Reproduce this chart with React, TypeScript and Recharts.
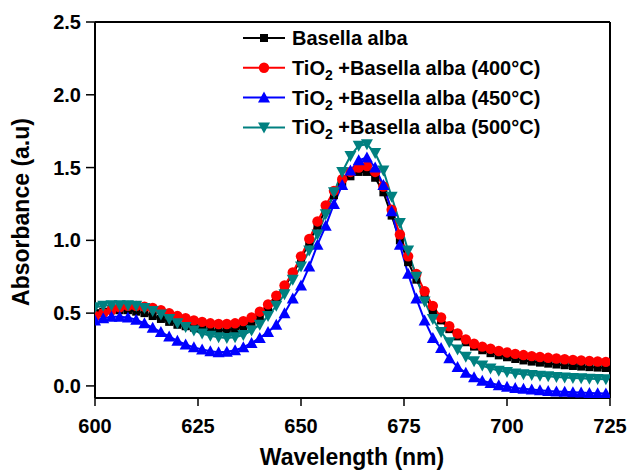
import React from "react";
import {
  LineChart,
  Line,
  XAxis,
  YAxis,
  ReferenceLine,
  Legend,
} from "recharts";

// wavelength (nm), one reading every 2 nm
const wavelengths = [
  600, 602, 604, 606, 608, 610, 612, 614, 616, 618, 620, 622, 624, 626, 628, 630,
  632, 634, 636, 638, 640, 642, 644, 646, 648, 650, 652, 654, 656, 658, 660, 662,
  664, 666, 668, 670, 672, 674, 676, 678, 680, 682, 684, 686, 688, 690, 692, 694,
  696, 698, 700, 702, 704, 706, 708, 710, 712, 714, 716, 718, 720, 722, 724,
];

const basella = [
  0.5, 0.51, 0.52, 0.52, 0.52, 0.51, 0.5, 0.48, 0.46, 0.44, 0.42, 0.41, 0.4, 0.39, 0.385, 0.38,
  0.385, 0.39, 0.41, 0.44, 0.48, 0.53, 0.6, 0.68, 0.77, 0.87, 0.99, 1.1, 1.21, 1.31, 1.39, 1.44,
  1.47, 1.47, 1.43, 1.33, 1.17, 1.0, 0.85, 0.73, 0.62, 0.52, 0.45, 0.39, 0.34, 0.3, 0.27, 0.245,
  0.225, 0.21, 0.197, 0.185, 0.175, 0.167, 0.16, 0.153, 0.147, 0.142, 0.137, 0.133, 0.129, 0.126, 0.123,
];

const tio400 = [
  0.48, 0.5, 0.52, 0.54, 0.55, 0.55, 0.545, 0.535, 0.52, 0.5, 0.48, 0.465, 0.45, 0.44, 0.43, 0.425,
  0.425, 0.43, 0.445, 0.47, 0.51, 0.56, 0.62, 0.69, 0.78, 0.89, 1.01, 1.13, 1.24, 1.34, 1.42, 1.47,
  1.5, 1.51, 1.47, 1.37, 1.21, 1.04, 0.89, 0.77, 0.65, 0.55, 0.47, 0.41, 0.36, 0.32, 0.29, 0.27,
  0.255, 0.24, 0.23, 0.22, 0.212, 0.205, 0.199, 0.193, 0.188, 0.183, 0.179, 0.175, 0.171, 0.168, 0.165,
];

const tio450 = [
  0.45, 0.465, 0.475, 0.475, 0.47, 0.455, 0.43, 0.4, 0.37, 0.34, 0.31, 0.285, 0.265, 0.25, 0.238, 0.232,
  0.235, 0.245, 0.265, 0.295, 0.33, 0.37, 0.42, 0.5, 0.6, 0.69, 0.82, 0.97, 1.1, 1.25, 1.38, 1.48,
  1.55, 1.57, 1.5, 1.38, 1.2, 0.97, 0.77, 0.6, 0.45, 0.33, 0.26, 0.19, 0.13, 0.09, 0.06, 0.035,
  0.02, 0.005, -0.005, -0.015, -0.02, -0.025, -0.03, -0.035, -0.038, -0.04, -0.043, -0.046, -0.048, -0.05, -0.052,
];

const tio500 = [
  0.54, 0.55, 0.555, 0.555, 0.555, 0.55, 0.535, 0.515, 0.49, 0.46, 0.43, 0.405, 0.38, 0.36, 0.345, 0.335,
  0.33, 0.335, 0.35, 0.38, 0.42, 0.48, 0.55, 0.63, 0.73, 0.82, 0.93, 1.04, 1.18, 1.33, 1.47, 1.58,
  1.65, 1.66, 1.6, 1.48, 1.3, 1.12, 0.93, 0.75, 0.58, 0.46, 0.37, 0.3, 0.25, 0.2, 0.17, 0.14,
  0.12, 0.105, 0.095, 0.085, 0.08, 0.075, 0.07, 0.066, 0.062, 0.058, 0.055, 0.052, 0.05, 0.048, 0.046,
];

const xTicks = [600, 625, 650, 675, 700, 725];
const yTicks = [0, 0.5, 1, 1.5, 2, 2.5];

const data = wavelengths.map((w, i) => ({
  w,
  basella: basella[i],
  tio400: tio400[i],
  tio450: tio450[i],
  tio500: tio500[i],
}));

type Shape = "square" | "circle" | "up" | "down";

const series: { key: string; temp: string | null; color: string; shape: Shape }[] = [
  { key: "basella", temp: null, color: "#000000", shape: "square" },
  { key: "tio400", temp: "400", color: "#ff0000", shape: "circle" },
  { key: "tio450", temp: "450", color: "#0000ff", shape: "up" },
  { key: "tio500", temp: "500", color: "#008080", shape: "down" },
];

const FONT = "'Liberation Sans', Arial, Helvetica, sans-serif";

function Marker({ cx, cy, shape, color }: { cx: number; cy: number; shape: Shape; color: string }) {
  if (shape === "square") return <rect x={cx - 4} y={cy - 4} width={8} height={8} fill={color} />;
  if (shape === "circle") return <circle cx={cx} cy={cy} r={5.2} fill={color} />;
  if (shape === "up")
    return <polygon points={`${cx},${cy - 6} ${cx + 6},${cy + 5} ${cx - 6},${cy + 5}`} fill={color} />;
  return <polygon points={`${cx - 6},${cy - 5} ${cx + 6},${cy - 5} ${cx},${cy + 6}`} fill={color} />;
}

function makeDot(shape: Shape, color: string) {
  return (props: any) => {
    const { cx, cy, index } = props;
    if (cx == null || cy == null) return <g key={index} />;
    return <Marker key={index} cx={cx} cy={cy} shape={shape} color={color} />;
  };
}

function LegendBox() {
  return (
    <svg width={380} height={120} style={{ overflow: "visible" }}>
      {series.map((s, i) => {
        const y = 16 + i * 29.8;
        return (
          <g key={s.key}>
            <line x1={13} x2={55} y1={y} y2={y} stroke={s.color} strokeWidth={2} />
            <Marker cx={34} cy={y} shape={s.shape} color={s.color} />
            <text x={62} y={y + 7} fontFamily={FONT} fontWeight="bold" fontSize={20} fill="#000">
              {s.temp === null ? (
                "Basella alba"
              ) : (
                <>
                  TiO
                  <tspan fontSize={14} dy={5}>2</tspan>
                  <tspan dy={-5}>{` +Basella alba (${s.temp}°C)`}</tspan>
                </>
              )}
            </text>
          </g>
        );
      })}
    </svg>
  );
}

const tickStyle = { fontFamily: FONT, fontWeight: "bold" as const, fontSize: 20, fill: "#000" };

export default function App() {
  return (
    <div style={{ position: "absolute", left: 0, top: 0, width: 628, height: 471, background: "#fff" }}>
      <LineChart width={628} height={471} data={data} margin={{ top: 22, right: 18, bottom: 0, left: 0 }}>
        <XAxis
          dataKey="w"
          type="number"
          domain={[600, 725]}
          ticks={xTicks}
          allowDataOverflow
          height={73}
          tickSize={8}
          tickMargin={13}
          tick={tickStyle}
          axisLine={{ stroke: "#000", strokeWidth: 2 }}
          tickLine={{ stroke: "#000", strokeWidth: 1.5 }}
          label={{
            content: () => (
              <text x={352} y={465} textAnchor="middle" fontFamily={FONT} fontWeight="bold" fontSize={23} fill="#000">
                Wavelength (nm)
              </text>
            ),
          }}
        />
        <YAxis
          type="number"
          domain={[-0.083, 2.5]}
          ticks={yTicks}
          allowDataOverflow
          width={95}
          tickSize={9}
          tickMargin={5}
          tick={tickStyle}
          tickFormatter={(v: number) => v.toFixed(1)}
          axisLine={{ stroke: "#000", strokeWidth: 2 }}
          tickLine={{ stroke: "#000", strokeWidth: 1.5 }}
          label={{
            content: () => (
              <text
                x={29}
                y={212}
                transform="rotate(-90, 29, 212)"
                textAnchor="middle"
                fontFamily={FONT}
                fontWeight="bold"
                fontSize={23}
                fill="#000"
              >
                Absorbance (a.u)
              </text>
            ),
          }}
        />
        <ReferenceLine y={2.5} stroke="#000" strokeWidth={2} />
        <ReferenceLine x={725} stroke="#000" strokeWidth={2} />
        {series.map((s) => (
          <Line
            key={s.key}
            dataKey={s.key}
            type="linear"
            stroke={s.color}
            strokeWidth={2}
            dot={makeDot(s.shape, s.color)}
            activeDot={false}
            isAnimationActive={false}
          />
        ))}
        <Legend
          layout="horizontal"
          verticalAlign="middle"
          align="center"
          wrapperStyle={{ left: 230, top: 22, width: 380, height: 120 }}
          content={() => <LegendBox />}
        />
      </LineChart>
    </div>
  );
}
